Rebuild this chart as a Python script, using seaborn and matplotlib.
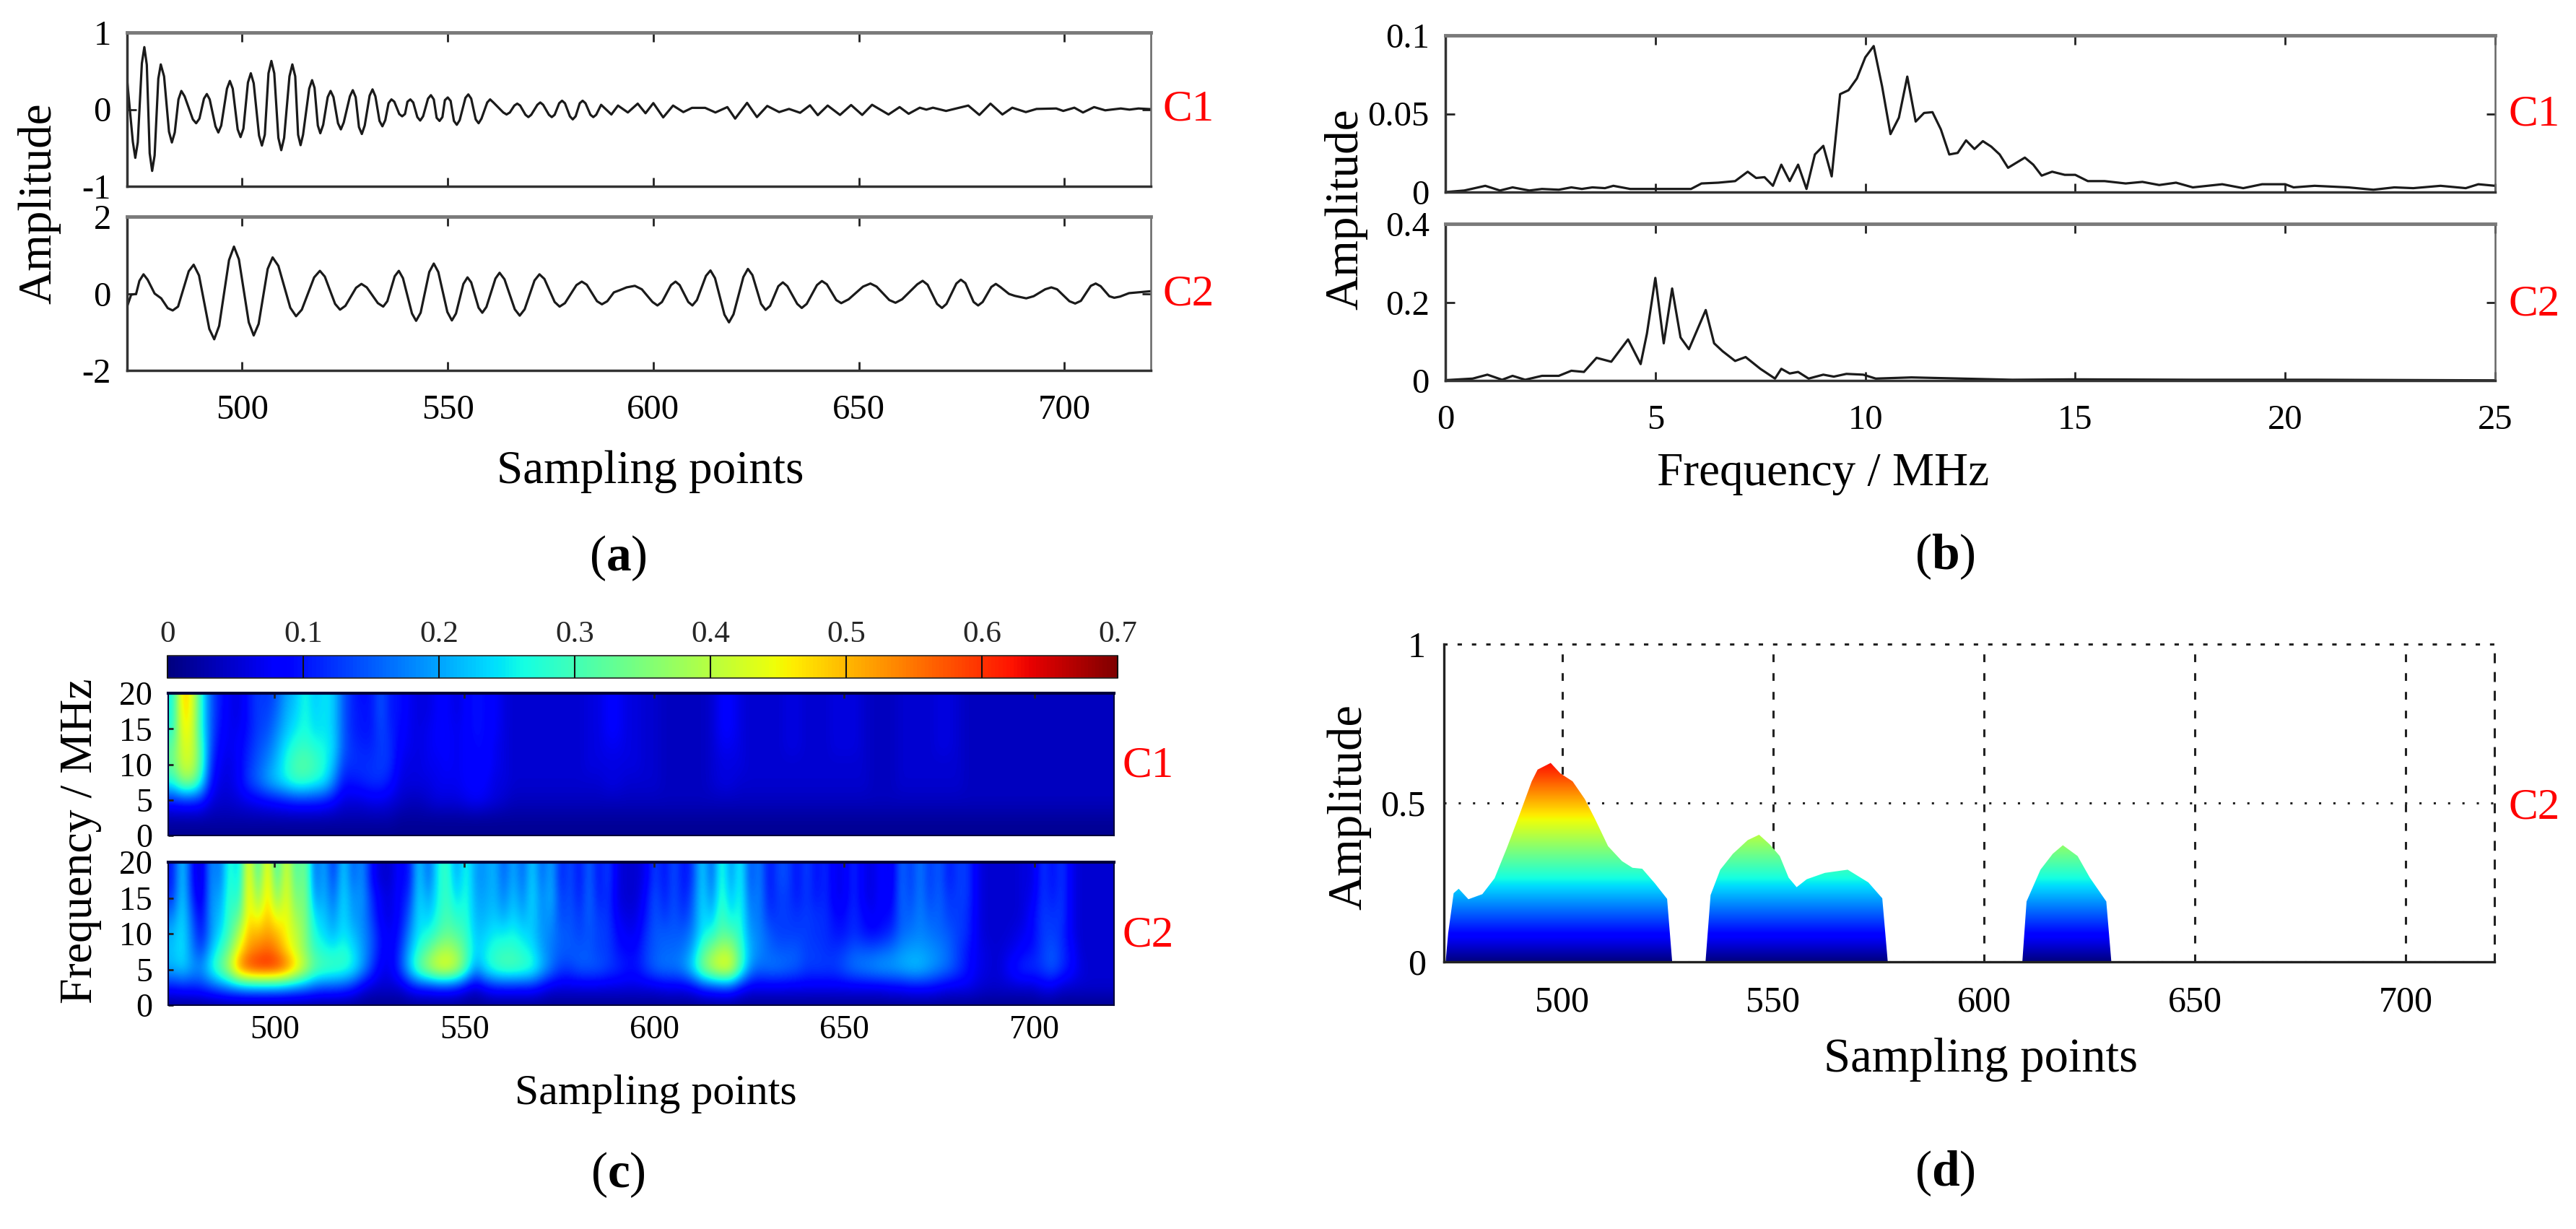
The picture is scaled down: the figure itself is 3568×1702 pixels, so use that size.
import matplotlib
matplotlib.use('Agg')
from typing import List

import matplotlib.pyplot as plt
from matplotlib.path import Path
import numpy as np
import pandas as pd
import seaborn as sns

W, H = 3568, 1702

# (a) time signals
c1_x = [472, 473.4, 474, 474.6, 475.6, 476.2, 476.8, 477.5, 478.1, 478.7, 479.6, 480.2, 481, 482.2, 482.9, 483.6,
        484.5, 485.2, 486, 488, 488.8, 489.6, 490.7, 491.4, 492.1, 493.5, 494.2, 494.9, 496.3, 497, 497.7, 498.9,
        499.6, 500.3, 501.4, 502.1, 502.8, 504.1, 504.8, 505.5, 506.4, 507.1, 507.8, 508.8, 509.5, 510.2, 511.5, 512.2,
        512.9, 513.6, 514.2, 514.8, 516.3, 517, 517.6, 518.4, 519, 519.7, 520.8, 521.5, 522.2, 523.3, 524, 524.7,
        526.2, 526.9, 527.6, 528.4, 529.1, 529.8, 531, 531.7, 532.4, 533.4, 534.1, 534.8, 535.6, 536.3, 537, 538.2,
        538.9, 539.6, 540.2, 540.9, 541.6, 542.6, 543.3, 544, 545.2, 545.9, 546.6, 547.3, 548, 548.7, 549.3, 550,
        550.7, 551.5, 552.2, 552.9, 554.3, 555, 555.7, 556.8, 557.5, 558.2, 559.6, 560.3, 561.1, 563.5, 564.3, 565.1,
        566.2, 566.9, 567.6, 568.9, 569.6, 570.3, 571.8, 572.5, 573.2, 574.6, 575.3, 576, 577.1, 577.8, 578.5, 579.7,
        580.4, 581.1, 582.1, 582.8, 583.5, 584.7, 585.4, 586.1, 587.3, 589.8,
        591.4, 593.8, 596.2, 598.1, 600, 602.4, 604.8, 607.3, 609.4, 612.6, 615.1, 618, 619.9, 622.8, 625.2, 627.7,
        630.6, 633, 635.7, 638.1, 640, 642.4, 645.4, 648.1, 650.8, 653.2, 657.2, 659.9, 662.1, 664.8, 666.4, 668,
        671.2, 676.6, 679.3, 682, 684.9, 687.3, 690.6, 693.2, 698, 699.7, 702.4, 704.5, 707.2, 709.9, 713.7, 715.8,
        718, 721]
c1_y = [0.39, -0.42, -0.63, -0.43, 0.60, 0.81, 0.58, -0.57, -0.80, -0.60, 0.40, 0.585, 0.43, -0.29, -0.43, -0.30,
        0.13, 0.24, 0.17, -0.13, -0.18, -0.12, 0.14, 0.20, 0.13, -0.22, -0.30, -0.21, 0.27, 0.37, 0.27, -0.26,
        -0.36, -0.25, 0.35, 0.47, 0.34, -0.34, -0.47, -0.33, 0.47, 0.63, 0.47, -0.37, -0.53, -0.37, 0.43, 0.585,
        0.43, -0.33, -0.465, -0.33, 0.27, 0.38, 0.28, -0.21, -0.31, -0.20, 0.16, 0.24, 0.16, -0.18, -0.26, -0.17,
        0.17, 0.25, 0.16, -0.23, -0.32, -0.21, 0.18, 0.26, 0.17, -0.15, -0.22, -0.14, 0.08, 0.13, 0.10, -0.06,
        -0.09, -0.06, 0.10, 0.13, 0.09, -0.10, -0.145, -0.09, 0.14, 0.185, 0.13, -0.11, -0.15, -0.10, 0.12, 0.155,
        0.11, -0.15, -0.20, -0.14, 0.15, 0.195, 0.14, -0.13, -0.18, -0.12, 0.09, 0.13, 0.09, -0.04, -0.066, -0.04,
        0.05, 0.075, 0.05, -0.07, -0.10, -0.07, 0.06, 0.09, 0.06, -0.07, -0.10, -0.07, 0.08, 0.113, 0.08, -0.09,
        -0.13, -0.09, 0.08, 0.113, 0.08, -0.07, -0.10, -0.07, 0.06, -0.066,
        0.05, -0.04, 0.075, -0.05, 0.082, -0.104, 0.05, -0.035, 0.02, 0.02, -0.04, 0.03, -0.12, 0.085, -0.10, 0.045,
        -0.035, 0.006, -0.044, 0.053, -0.075, 0.05, -0.072, 0.057, -0.072, 0.06, -0.066, 0.03, -0.057, 0.022, -0.003, 0.022,
        -0.02, 0.05, -0.072, 0.075, -0.066, 0.022, -0.035, 0.006, 0.012, -0.02, 0.022, -0.04, 0.03, -0.012, 0.012, -0.003,
        0.012, 0.003]
c2_x = [472, 473, 474.2, 475, 476, 477, 478.7, 480.3, 481.9, 483.1, 484.4, 487, 488.2, 489.5, 492, 493.2, 494.4, 496.8,
        498, 499.2, 501.6, 502.8, 504, 506.2, 507.4, 508.8, 511.7, 513.1, 514.5, 517.5, 518.9, 520.1, 522.6, 523.8,
        525.1, 527.7, 529, 530.3, 533, 534.3, 535.3, 537.1, 538.1, 539.1, 541.3, 542.3, 543.4, 545.5, 546.6, 547.7,
        549.9, 551, 552, 553.8, 554.8, 555.7, 557.5, 558.4, 559.4, 561.6, 562.6, 563.8, 566.3, 567.5, 568.7, 571.1,
        572.3, 573.5, 576, 577.2, 578.5, 581.3, 582.6, 583.8, 586.3, 587.5, 588.8, 590.4, 591.9, 593.5, 595.5, 597.2,
        599.8, 601, 602.1, 604.3, 605.4, 606.4, 608.5, 609.5, 610.6, 612.8, 613.9, 615, 617.3, 618.4, 619.5, 621.9,
        623, 624.1, 626.2, 627.3, 628.4, 630.4, 631.5, 632.6, 635, 636.1, 637.3, 639.8, 641, 642.2, 644.5, 645.7,
        647.5, 651, 652.8, 654.3, 657.4, 658.9, 660.5, 664.2, 665.5, 666.7, 669, 670.2, 671.3, 673.7, 674.8, 675.9,
        677.9, 679, 680.1, 682.2, 683.3, 684.4, 686.5, 687.9, 690.7, 692.5, 695.3, 696.8, 698.2, 701.2, 702.6, 704,
        706.4, 707.6, 708.8, 710.9, 712.1, 713.5, 715.7, 720, 721]
c2_y = [-0.34, -0.03, -0.01, 0.33, 0.50, 0.36, 0, -0.125, -0.38, -0.44, -0.34, 0.58, 0.75, 0.47, -0.92, -1.19, -0.84, 0.87,
        1.22, 0.89, -0.75, -1.09, -0.79, 0.64, 0.94, 0.72, -0.37, -0.59, -0.42, 0.42, 0.59, 0.44, -0.27, -0.42,
        -0.32, 0.15, 0.25, 0.16, -0.25, -0.34, -0.20, 0.45, 0.59, 0.40, -0.52, -0.71, -0.50, 0.56, 0.78, 0.56,
        -0.48, -0.70, -0.52, 0.25, 0.42, 0.29, -0.37, -0.50, -0.35, 0.39, 0.54, 0.37, -0.41, -0.575, -0.41, 0.34,
        0.50, 0.38, -0.22, -0.34, -0.25, 0.22, 0.31, 0.23, -0.20, -0.28, -0.20, 0.03, 0.09, 0.16, 0.20, 0.11,
        -0.22, -0.31, -0.22, 0.22, 0.31, 0.22, -0.22, -0.31, -0.17, 0.46, 0.60, 0.40, -0.55, -0.75, -0.54, 0.43,
        0.64, 0.48, -0.27, -0.425, -0.32, 0.19, 0.29, 0.19, -0.27, -0.375, -0.27, 0.22, 0.325, 0.24, -0.17, -0.25,
        -0.15, 0.18, 0.26, 0.18, -0.17, -0.24, -0.15, 0.24, 0.33, 0.23, -0.27, -0.375, -0.27, 0.26, 0.36, 0.27,
        -0.22, -0.31, -0.22, 0.17, 0.25, 0.17, -0.01, -0.06, -0.125, -0.07, 0.11, 0.16, 0.11, -0.20, -0.26, -0.19,
        0.20, 0.26, 0.19, -0.07, -0.11, -0.08, 0.01, 0.05, 0.06]

# (b) spectra
f1_x = [0, 0.45, 0.95, 1.3, 1.6, 2, 2.3, 2.7, 3, 3.25, 3.5, 3.8, 4, 4.4, 4.9, 5.85, 6.1, 6.5, 6.9, 7.2, 7.4, 7.6, 7.8, 8,
        8.2, 8.4, 8.6, 8.8, 9, 9.2, 9.4, 9.6, 9.8, 10, 10.2, 10.4, 10.6, 10.8, 11, 11.2, 11.4, 11.6, 11.8, 12, 12.2,
        12.4, 12.6, 12.8, 13, 13.2, 13.4, 13.8, 14, 14.2, 14.45, 14.75, 15, 15.3, 15.7, 16.2, 16.6, 17, 17.4, 17.8,
        18.5, 19, 19.45, 20, 20.2, 20.7, 21.5, 22.1, 22.6, 23.05, 23.7, 24.3, 24.6, 25]
f1_y = [0, 0.001, 0.004, 0.001, 0.003, 0.001, 0.002, 0.0015, 0.003, 0.002, 0.003, 0.0025, 0.004, 0.002, 0.002, 0.002,
        0.0055, 0.006, 0.007, 0.013, 0.009, 0.0095, 0.004, 0.0175, 0.007, 0.0175, 0.002, 0.024, 0.0295, 0.01, 0.0625,
        0.065, 0.0725, 0.086, 0.0932, 0.0675, 0.037, 0.0475, 0.0737, 0.045, 0.0505, 0.051, 0.04, 0.024, 0.025, 0.033,
        0.0275, 0.0325, 0.029, 0.024, 0.0155, 0.022, 0.0175, 0.0105, 0.013, 0.011, 0.011, 0.007, 0.007, 0.0055, 0.0065,
        0.0045, 0.006, 0.003, 0.005, 0.0025, 0.005, 0.005, 0.003, 0.004, 0.003, 0.0015, 0.003, 0.0025, 0.004, 0.0025,
        0.005, 0.004]
f2_x = [0, 0.65, 1, 1.35, 1.6, 1.9, 2.3, 2.7, 3, 3.3, 3.6, 3.95, 4.35, 4.65, 4.8, 5, 5.2, 5.4, 5.6, 5.8, 6.2, 6.4, 6.6,
        6.9, 7.15, 7.5, 7.85, 8, 8.2, 8.4, 8.65, 9, 9.25, 9.55, 9.95, 10.25, 11.1, 12.3, 13.5, 15, 17.8, 20.7, 25]
f2_y = [0.001, 0.005, 0.015, 0.002, 0.012, 0.002, 0.012, 0.012, 0.025, 0.022, 0.058, 0.048, 0.105, 0.042, 0.12, 0.262,
        0.095, 0.235, 0.11, 0.08, 0.18, 0.095, 0.075, 0.05, 0.06, 0.03, 0.005, 0.03, 0.018, 0.022, 0.005, 0.015, 0.01,
        0.017, 0.015, 0.005, 0.008, 0.005, 0.002, 0.003, 0.002, 0.002, 0.0005]

# (c) scalogram, amplitude x 100, one list per frequency, 100 columns over the sampling range
c1_f20 = [25,50,45,27,15,10,7,6,10,13, 12,15,20,22,27,22,25,23,15,11, 9,10,15,10,10,7,6,6,8,8, 6,8,10,9,8,6,5,5,5,5,
          5,5,5,5,6,6,8,8,6,6, 5,5,4,4,4,4,4,5,8,8, 6,5,5,5,5,6,6,5,5,5, 6,6,6,5,4,4,4,5,5,5, 5,6,6,5,4,4,4,4,4,4, 4,4,4,4,4,4,4,4,4,4]
c1_f175 = [26,48,45,27,15,10,7,6,10,13, 13,16,21,23,27,23,25,23,15,11, 10,10,15,10,10,7,6,6,8,8, 6,8,10,9,8,6,5,5,5,5,
           5,5,5,5,6,6,8,8,6,6, 5,5,4,4,4,4,4,5,8,8, 6,5,5,5,5,6,6,5,5,5, 6,6,6,5,4,4,4,5,5,5, 5,6,6,5,4,4,4,4,4,4, 4,4,4,4,4,4,4,4,4,4]
c1_f15 = [27,46,44,27,15,9,7,7,10,13, 14,18,22,25,27,24,25,23,15,11, 10,10,14,11,9,7,6,7,8,8, 7,8,10,9,8,6,5,5,5,5,
          5,5,5,5,6,6,8,8,6,6, 5,5,4,4,4,4,4,5,8,8, 6,5,5,5,5,6,6,5,5,5, 6,6,6,5,4,4,4,5,5,5, 5,6,6,5,4,4,4,4,4,4, 4,4,4,4,4,4,4,4,4,4]
c1_f125 = [32,43,43,30,14,8,7,8,11,14, 16,20,25,28,29,27,26,24,15,12, 11,11,13,12,8,7,6,7,8,8, 7,8,9,9,7,6,5,5,5,5,
           5,5,5,5,6,6,7,7,6,6, 5,5,4,4,4,4,4,5,7,7, 6,5,5,5,5,6,6,5,5,5, 6,6,6,5,4,4,4,5,5,5, 5,6,6,5,4,4,4,4,4,4, 4,4,4,4,4,4,4,4,4,4]
c1_f10 = [33,42,42,31,12,7,6,8,12,15, 18,22,27,31,32,30,27,22,13,12, 12,12,13,12,7,6,6,7,7,8, 7,8,9,9,7,6,5,5,5,5,
          5,5,5,5,6,6,6,6,6,6, 5,5,4,4,4,4,4,5,6,6, 6,5,5,5,5,5,5,5,5,5, 5,5,5,5,4,4,4,5,5,5, 5,5,5,5,4,4,4,4,4,4, 4,4,4,4,4,4,4,4,4,4]
c1_f75 = [27,36,36,26,10,6,6,8,13,16, 20,23,26,29,29,27,25,18,10,10, 11,12,12,10,6,6,6,6,7,7, 7,8,8,8,6,6,5,5,5,5,
          5,5,5,5,5,5,6,6,5,5, 5,5,4,4,4,4,4,5,6,6, 5,5,5,5,5,5,5,5,5,5, 5,5,5,5,4,4,4,5,5,5, 5,5,5,5,4,4,4,4,4,4, 4,4,4,4,4,4,4,4,4,4]
c1_f5 = [11,12,12,11,6,5,5,6,7,8, 9,10,11,12,12,12,11,9,6,6, 6,7,7,6,5,4,4,5,6,6, 6,7,8,7,6,5,4,4,4,4,
         4,4,4,4,4,4,4,4,4,4, 4,4,4,4,4,4,4,4,4,4, 4,4,4,4,4,4,4,4,4,4, 4,4,4,4,4,4,4,4,4,4, 4,4,4,4,4,4,4,4,4,4, 4,4,4,4,4,4,4,4,4,4]
c1_f25 = [3,3,3,3,3,3,3,3,3,3, 3,3,3,3,3,3,3,3,3,3, 3,3,3,3,2,2,2,2,2,2, 2,2,2,2,2,2,2,2,2,2,
          2,2,2,2,2,2,2,2,2,2, 2,2,2,2,2,2,2,2,2,2, 2,2,2,2,2,2,2,2,2,2, 2,2,2,2,2,2,2,2,2,2, 2,2,2,2,2,2,2,2,2,2, 2,2,2,2,2,2,2,2,2,2]
c1_f0 = [1,1,1,1,1,1,1,1,1,1, 1,1,1,1,1,1,1,1,1,1, 1,1,1,1,1,1,1,1,1,1, 1,1,1,1,1,1,1,1,1,1,
         1,1,1,1,1,1,1,1,1,1, 1,1,1,1,1,1,1,1,1,1, 1,1,1,1,1,1,1,1,1,1, 1,1,1,1,1,1,1,1,1,1, 1,1,1,1,1,1,1,1,1,1, 1,1,1,1,1,1,1,1,1,1]

c2_f20 = [10,25,10,4,20,15,30,20,50,25, 50,25,46,28,37,14,22,10,25,14, 20,9,5,5,9,9,25,14,26,30, 18,28,19,19,22,14,22,14,25,14,
          22,10,15,9,17,9,14,6,5,5, 7,14,9,15,9,13,25,13,30,17, 28,13,19,9,14,14,9,14,9,12, 7,7,12,7,6,9,6,17,12,18, 12,16,10,13,13,7,5,5,5,5, 6,6,13,9,13,7,5,5,5,5]
c2_f175 = [10,25,10,4,20,16,30,22,50,29, 50,29,46,30,37,15,22,12,25,15, 20,9,5,5,9,9,25,15,26,30, 20,28,19,19,22,15,22,15,25,15,
           22,10,15,9,17,9,14,6,5,5, 7,14,9,15,9,13,25,14,30,18, 28,13,19,9,14,14,9,14,9,12, 7,7,12,7,6,9,6,17,12,18, 12,16,10,13,13,7,5,5,5,5, 6,6,13,9,13,7,5,5,5,5]
c2_f15 = [12,25,12,5,20,19,30,25,50,34, 50,34,46,33,37,18,22,15,25,18, 20,12,7,6,9,12,25,19,26,30, 23,28,20,20,22,17,23,17,25,17,
          22,12,15,10,17,10,13,6,5,5, 9,15,10,15,10,15,25,17,30,21, 28,15,19,10,13,13,10,13,10,12, 7,7,12,7,6,9,7,17,13,18, 13,16,12,13,13,7,5,5,5,5, 6,7,13,10,13,7,5,5,5,5]
c2_f125 = [17,25,15,7,20,21,30,31,48,42, 50,42,46,37,36,23,23,18,25,19, 19,13,7,6,9,15,25,22,27,31, 27,28,21,21,23,20,24,20,24,18,
           20,13,15,12,16,12,13,7,6,6, 10,15,12,15,12,16,25,21,31,24, 28,17,18,12,13,13,12,13,12,12, 9,9,12,9,7,9,9,16,15,18, 15,16,13,13,12,7,5,5,5,5, 6,9,13,12,13,7,5,5,5,5]
c2_f10 = [21,25,17,9,19,24,30,39,50,50, 52,50,45,41,36,26,24,21,25,22, 19,15,9,7,10,18,25,26,30,33, 31,29,22,23,25,25,26,24,23,19,
          18,15,15,13,15,13,13,9,7,7, 12,15,15,15,15,18,25,27,32,31, 28,19,18,15,13,13,13,13,12,12, 10,10,12,10,9,10,12,16,17,18, 17,16,15,13,12,7,5,5,5,6, 7,9,13,13,12,7,5,5,5,5]
c2_f75 = [22,25,18,13,22,28,35,46,53,55, 57,54,48,42,36,29,27,26,28,25, 20,15,9,7,12,21,28,33,38,40, 37,31,23,25,28,29,29,27,25,20,
          17,15,15,15,15,13,13,10,9,9, 13,15,16,16,17,21,31,36,40,39, 30,21,18,16,15,15,15,13,13,12, 12,13,15,15,15,16,17,19,20,20, 19,18,16,13,10,7,6,5,6,7, 9,10,13,15,12,9,5,5,5,5]
c2_f5 = [21,23,20,19,26,33,41,55,60,62, 62,61,57,49,41,33,31,30,29,26, 20,13,7,7,13,23,33,39,44,45, 41,31,19,25,29,31,31,30,28,22,
         17,13,13,15,15,15,13,12,10,10, 13,16,17,17,19,25,35,41,45,44, 31,19,16,17,17,16,15,13,13,13, 13,15,17,18,19,20,20,21,22,22, 20,18,16,13,10,7,6,5,7,10, 12,12,13,15,12,9,6,5,5,5]
c2_f25 = [10,11,11,12,14,16,18,19,20,20, 20,20,19,18,17,15,14,14,13,11, 7,5,5,5,5,8,10,10,11,11, 10,7,5,8,10,10,10,10,10,8,
          6,6,6,6,6,6,6,6,6,6, 6,6,7,7,7,8,11,12,13,13, 9,7,7,7,7,7,7,7,7,7, 7,7,7,7,7,7,8,8,9,9, 9,8,7,7,7,6,5,5,5,5, 5,5,7,7,5,5,5,5,5,5]
c2_f0 = c1_f0

# (d) envelope of C2, one list per lump
lump_x = [[472.4, 473, 474.3, 475.5, 477.8, 481.1, 484, 486.9, 489.9, 492.8, 494.2, 497.3, 499.6, 502.5, 505.4, 507.8,
           510.9, 514.2, 516.7, 519, 522, 524.9, 526.1],
          [534, 535.2, 537.5, 540.5, 544, 546.7, 549.2, 551.6, 553.7, 555.6, 558, 562.3, 567.7, 572.6, 575.9, 577.2],
          [609.1, 610.1, 613.4, 616.3, 618.7, 622.2, 625.1, 629, 630.2]]
lump_y = [[0, 0.09, 0.216, 0.23, 0.197, 0.213, 0.263, 0.358, 0.463, 0.568, 0.605, 0.626, 0.593, 0.568, 0.512, 0.45,
           0.364, 0.317, 0.296, 0.293, 0.247, 0.198, 0],
          [0, 0.21, 0.29, 0.34, 0.383, 0.40, 0.37, 0.333, 0.265, 0.235, 0.26, 0.28, 0.29, 0.25, 0.20, 0],
          [0, 0.19, 0.29, 0.34, 0.367, 0.333, 0.265, 0.19, 0]]

sample_ticks = [500, 550, 600, 650, 700]
bar_ticks = [0, 0.1, 0.2, 0.3, 0.4, 0.5, 0.6, 0.7]
bar_labels = ['0', '0.1', '0.2', '0.3', '0.4', '0.5', '0.6', '0.7']

sns.set_theme(style='ticks')
plt.rcParams['font.family'] = ['Liberation Serif', 'DejaVu Serif']
plt.rcParams['mathtext.fontset'] = 'custom'
plt.rcParams['mathtext.rm'] = 'Liberation Serif'
plt.rcParams['mathtext.bf'] = 'Liberation Serif:bold'

fig = plt.figure(figsize=(W / 100, H / 100), dpi=100)


def box(left: float, top: float, right: float, bottom: float):
    """Axes from pixel edges of the picture"""
    return fig.add_axes([left / W, 1 - bottom / H, (right - left) / W, (bottom - top) / H])


def put(x: float, y: float, text: str, size: float = 47, rotation: float = 0, color: str = 'black') -> None:
    fig.text(x / W, 1 - y / H, text, ha='center', va='center', fontsize=size, rotation=rotation, color=color)


def frame(ax, xlim, ylim, xticks, yticks, ylabels, size: float, show_x: bool = False, xpad: float = 24) -> None:
    ax.set_xlim(*xlim)
    ax.set_ylim(*ylim)
    ax.set_xlabel('')
    ax.set_ylabel('')
    ax.set_xticks(xticks)
    ax.set_yticks(yticks)
    ax.set_yticklabels(ylabels)
    ax.tick_params(direction='in', length=9, width=2, top=True, right=True, colors='#222222', labelcolor='black',
                   labelsize=size, labelbottom=show_x)
    ax.tick_params(axis='x', pad=xpad)
    ax.tick_params(axis='y', pad=16)
    ax.spines['top'].set(color='#7a7a7a', linewidth=3.5)
    ax.spines['right'].set(color='#666666', linewidth=1.8)
    ax.spines['left'].set(color='#333333', linewidth=2.5)
    ax.spines['bottom'].set(color='#333333', linewidth=2.5)


def trace(ax, x: List[float], y: List[float]) -> None:
    df = pd.DataFrame({'x': x, 'y': y})
    sns.lineplot(data=df, x='x', y='y', ax=ax, color='#1a1a1a', linewidth=2.3, errorbar=None, legend=False)


def scalogram(ax, rows: List[List[int]]):
    grid = np.array(rows) / 100
    return ax.imshow(grid, origin='lower', cmap='jet', vmin=0, vmax=0.7, aspect='auto', interpolation='bicubic',
                     interpolation_stage='data', extent=(472, 721, -1.25, 21.25))


# panel a
ax = box(176, 45, 1594, 258)
trace(ax, c1_x, c1_y)
frame(ax, (472, 721), (-1, 1), sample_ticks, [-1, 0, 1], ['-1', '0', '1'], 35)
ax = box(176, 300, 1594, 513)
trace(ax, c2_x, c2_y)
frame(ax, (472, 721), (-2, 2), sample_ticks, [-2, 0, 2], ['-2', '0', '2'], 35, show_x=True)
put(901, 653, 'Sampling points')
put(54, 282, 'Amplitude', rotation=90)
put(856, 773, r'($\mathbf{a}$)', size=50)
put(1646, 152, 'C1', size=44, color='red')
put(1646, 408, 'C2', size=44, color='red')

# panel b
ax = box(2002, 49, 3456, 266)
trace(ax, f1_x, f1_y)
frame(ax, (0, 25), (0, 0.1), [0, 5, 10, 15, 20, 25], [0, 0.05, 0.1], ['0', '0.05', '0.1'], 35)
ax = box(2002, 310, 3456, 527)
trace(ax, f2_x, f2_y)
frame(ax, (0, 25), (0, 0.4), [0, 5, 10, 15, 20, 25], [0, 0.2, 0.4], ['0', '0.2', '0.4'], 35, show_x=True)
put(2525, 656, 'Frequency / MHz')
put(1864, 290, 'Amplitude', rotation=90)
put(2694, 771, r'($\mathbf{b}$)', size=50)
put(3510, 159, 'C1', size=44, color='red')
put(3510, 422, 'C2', size=44, color='red')

# panel c
freq_ticks = [0, 5, 10, 15, 20]
freq_labels = ['0', '5', '10', '15', '20']
ax = box(233, 960, 1543, 1157)
im = scalogram(ax, [c1_f0, c1_f25, c1_f5, c1_f75, c1_f10, c1_f125, c1_f15, c1_f175, c1_f20])
frame(ax, (472, 721), (0, 20), sample_ticks, freq_ticks, freq_labels, 33)
ax.tick_params(right=False, bottom=False, length=5)
ax.spines[:].set(color='#00003a', linewidth=1.5)
ax.spines['top'].set_linewidth(3)
ax = box(233, 1194, 1543, 1392)
scalogram(ax, [c2_f0, c2_f25, c2_f5, c2_f75, c2_f10, c2_f125, c2_f15, c2_f175, c2_f20])
frame(ax, (472, 721), (0, 20), sample_ticks, freq_ticks, freq_labels, 33, show_x=True, xpad=10)
ax.tick_params(right=False, bottom=False, length=5)
ax.spines[:].set(color='#00003a', linewidth=1.5)
ax.spines['top'].set_linewidth(3)

cax = box(232, 908, 1548, 939)
bar = fig.colorbar(im, cax=cax, orientation='horizontal', ticklocation='top')
bar.set_ticks(bar_ticks)
bar.set_ticklabels(bar_labels)
bar.outline.set(edgecolor='#222222', linewidth=1.2)
cax.set_axisbelow(False)
cax.tick_params(direction='in', length=22, width=1.5, color='#111111', labelsize=31, pad=7)

put(908, 1515, 'Sampling points', size=43)
put(112, 1165, 'Frequency / MHz', size=46, rotation=90)
put(856, 1627, r'($\mathbf{c}$)', size=50)
put(1590, 1061, 'C1', size=44, color='red')
put(1590, 1296, 'C2', size=44, color='red')

# panel d, jet gradient clipped to the envelope, grid stays behind it
ax = box(2000, 892, 3455, 1332)
paths = []
for x, y in zip(lump_x, lump_y):
    paths.extend(ax.fill_between(x, 0, y, color='none', linewidth=0).get_paths())
shade = ax.imshow(np.linspace(0, 0.7, 256)[:, None], origin='lower', cmap='jet', vmin=0, vmax=0.7, aspect='auto',
                  extent=(472, 721, 0, 0.7), zorder=2)
shade.set_clip_path(Path.make_compound_path(*paths), ax.transData)
ax.set_xlim(472, 721)
ax.set_ylim(0, 1)
ax.set_xticks(sample_ticks)
ax.set_yticks([0, 0.5, 1])
ax.set_yticklabels(['0', '0.5', '1'])
ax.tick_params(length=0, labelsize=36, pad=24, colors='black')
ax.tick_params(axis='y', pad=18)
ax.xaxis.grid(True, color='#222222', linestyle=(0, (3.5, 5)), linewidth=2.2)
ax.yaxis.grid(True, color='#222222', linestyle=(0, (1, 5.5)), linewidth=2.2)
ax.spines['top'].set(color='#222222', linewidth=2.2, linestyle=(0, (1, 5.5)))
ax.spines['right'].set(color='#222222', linewidth=2.2, linestyle=(0, (3.5, 5)))
ax.spines['left'].set(color='#222222', linewidth=2.4)
ax.spines['bottom'].set(color='#222222', linewidth=2.4)
put(2743, 1467, 'Sampling points', size=48)
put(1869, 1118, 'Amplitude', size=48, rotation=90)
put(2694, 1625, r'($\mathbf{d}$)', size=50)
put(3510, 1119, 'C2', size=44, color='red')

fig.savefig('out.png', dpi=100)
